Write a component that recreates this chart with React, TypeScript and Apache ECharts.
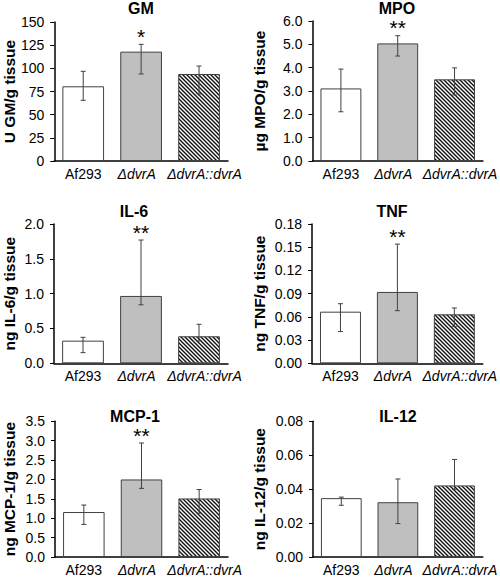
import React, { useEffect, useRef } from "react";
import * as echarts from "echarts";

const categories = ["Af293", "ΔdvrA", "ΔdvrA::dvrA"];

const gmMean = [80.6, 118, 93.9];
const gmLow = [65.5, 93.9, 72.3];
const gmHigh = [96.8, 125.9, 102.5];
const gmSig = ["", "*", ""];

const mpoMean = [3.11, 5.04, 3.5];
const mpoLow = [2.11, 4.5, 2.83];
const mpoHigh = [3.94, 5.37, 3.99];
const mpoSig = ["", "**", ""];

const il6Mean = [0.325, 0.967, 0.388];
const il6Low = [0.153, 0.84, 0.32];
const il6High = [0.373, 1.77, 0.56];
const il6Sig = ["", "**", ""];

const tnfMean = [0.0667, 0.0922, 0.0633];
const tnfLow = [0.041, 0.068, 0.0474];
const tnfHigh = [0.077, 0.154, 0.0715];
const tnfSig = ["", "**", ""];

const mcp1Mean = [1.16, 2.0, 1.51];
const mcp1Low = [0.84, 1.77, 1.13];
const mcp1High = [1.34, 2.94, 1.74];
const mcp1Sig = ["", "**", ""];

const il12Mean = [0.0347, 0.0323, 0.0422];
const il12Low = [0.0305, 0.0197, 0.0399];
const il12High = [0.0353, 0.046, 0.0575];
const il12Sig = ["", "", ""];

const panelTitles = ["GM", "MPO", "IL-6", "TNF", "MCP-1", "IL-12"];
const yNames = [
  "U GM/g tissue",
  "µg MPO/g tissue",
  "ng IL-6/g tissue",
  "ng TNF/g tissue",
  "ng MCP-1/g tissue",
  "ng IL-12/g tissue",
];
const yMax = [150, 6, 2, 0.18, 3.5, 0.08];
const yInterval = [25, 1, 0.5, 0.03, 0.5, 0.02];
const yDecimals = [0, 1, 1, 2, 1, 2];

const panelData = [
  { mean: gmMean, low: gmLow, high: gmHigh, sig: gmSig },
  { mean: mpoMean, low: mpoLow, high: mpoHigh, sig: mpoSig },
  { mean: il6Mean, low: il6Low, high: il6High, sig: il6Sig },
  { mean: tnfMean, low: tnfLow, high: tnfHigh, sig: tnfSig },
  { mean: mcp1Mean, low: mcp1Low, high: mcp1High, sig: mcp1Sig },
  { mean: il12Mean, low: il12Low, high: il12High, sig: il12Sig },
];

// layout (pixels)
const layout = [
  { left: 53, top: 22, width: 175, height: 139, titleX: 141, titleY: 0, nameGap: 36 },
  { left: 312.5, top: 21, width: 173, height: 140, titleX: 397, titleY: 0, nameGap: 45 },
  { left: 53, top: 224, width: 175, height: 139.3, titleX: 134, titleY: 203, nameGap: 37 },
  { left: 312, top: 224, width: 172, height: 139.3, titleX: 392, titleY: 203, nameGap: 45 },
  { left: 54, top: 421.3, width: 174, height: 139.7, titleX: 135, titleY: 408, nameGap: 38 },
  { left: 313, top: 421.3, width: 172, height: 139.7, titleX: 398, titleY: 408, nameGap: 46 },
];

const FONT = '"Liberation Sans", Arial, Helvetica, sans-serif';

function makeHatch(): string {
  const s = 4;
  const c = document.createElement("canvas");
  c.width = s;
  c.height = s;
  const ctx = c.getContext("2d")!;
  ctx.fillStyle = "#ffffff";
  ctx.fillRect(0, 0, s, s);
  ctx.strokeStyle = "#111111";
  ctx.lineWidth = 1.4;
  ctx.beginPath();
  ctx.moveTo(-1, -1);
  ctx.lineTo(s + 1, s + 1);
  ctx.moveTo(-1, s - 1);
  ctx.lineTo(1, s + 1);
  ctx.moveTo(s - 1, -1);
  ctx.lineTo(s + 1, 1);
  ctx.stroke();
  return c.toDataURL();
}

export default function App() {
  const ref = useRef<HTMLDivElement>(null);

  useEffect(() => {
    if (!ref.current) return;
    const chart = echarts.init(ref.current, undefined, { renderer: "svg" });
    const hatch = makeHatch();
    const barColors: any[] = [
      "#ffffff",
      "#bfbfbf",
      { image: hatch, repeat: "repeat", imageWidth: 4, imageHeight: 4 },
    ];

    const grid: any[] = [];
    const xAxis: any[] = [];
    const yAxis: any[] = [];
    const series: any[] = [];
    const title: any[] = [];

    layout.forEach((L, i) => {
      grid.push({ left: L.left, top: L.top, width: L.width, height: L.height, containLabel: false });
      title.push({
        text: panelTitles[i],
        left: L.titleX,
        top: L.titleY,
        textAlign: "center",
        padding: 0,
        textStyle: { fontSize: 16, fontWeight: "bold", color: "#000", fontFamily: FONT },
      });
      const italic = { fontStyle: "italic", fontSize: 14, color: "#000", fontFamily: FONT };
      xAxis.push({
        type: "category",
        gridIndex: i,
        data: categories,
        axisLine: { show: true, lineStyle: { color: "#000", width: 1.5 } },
        axisTick: { show: false },
        axisLabel: {
          color: "#000",
          fontSize: 14,
          fontFamily: FONT,
          margin: 6,
          interval: 0,
          formatter: (v: string, idx: number) =>
            idx === 0 ? v : idx === 1 ? `{a|${v}}` : `{b|${v}}`,
          rich: {
            a: { ...italic, padding: [0, 9, 0, 0] },
            b: { ...italic, padding: [0, 0, 0, 11] },
          },
        },
      });
      const d = yDecimals[i];
      yAxis.push({
        type: "value",
        gridIndex: i,
        min: 0,
        max: yMax[i],
        interval: yInterval[i],
        splitLine: { show: false },
        axisLine: { show: true, lineStyle: { color: "#000", width: 1.5 } },
        axisTick: { show: true, length: 4, lineStyle: { color: "#000", width: 1 } },
        axisLabel: {
          color: "#000",
          fontSize: 14,
          fontFamily: FONT,
          margin: 10,
          formatter: (v: number) => v.toFixed(d),
        },
        name: yNames[i],
        nameLocation: "middle",
        nameRotate: 90,
        nameGap: L.nameGap,
        nameTextStyle: { fontSize: 15.5, fontWeight: "bold", color: "#000", fontFamily: FONT },
      });
      const P = panelData[i];
      series.push({
        type: "bar",
        xAxisIndex: i,
        yAxisIndex: i,
        barWidth: "72%",
        data: P.mean.map((v, k) => ({
          value: v,
          itemStyle: { color: barColors[k], borderColor: "#404040", borderWidth: 1 },
        })),
      });
      series.push({
        type: "custom",
        xAxisIndex: i,
        yAxisIndex: i,
        z: 5,
        data: P.mean.map((_, k) => [k, P.low[k], P.high[k]]),
        renderItem: (params: any, api: any) => {
          const k = api.value(0);
          const lo = api.coord([k, api.value(1)]);
          const hi = api.coord([k, api.value(2)]);
          const cx = lo[0];
          const hw = 2.5;
          const st = { stroke: "#404040", lineWidth: 1 };
          const children: any[] = [
            { type: "line", shape: { x1: cx, y1: lo[1], x2: cx, y2: hi[1] }, style: st },
            { type: "line", shape: { x1: cx - hw, y1: lo[1], x2: cx + hw, y2: lo[1] }, style: st },
            { type: "line", shape: { x1: cx - hw, y1: hi[1], x2: cx + hw, y2: hi[1] }, style: st },
          ];
          const sg = P.sig[params.dataIndex];
          if (sg) {
            children.push({
              type: "text",
              x: cx,
              y: hi[1] - 8,
              style: {
                text: sg,
                fill: "#000",
                font: `21px ${FONT}`,
                textAlign: "center",
                textVerticalAlign: "middle",
              },
            });
          }
          return { type: "group", children };
        },
      });
    });

    chart.setOption({
      animation: false,
      backgroundColor: "#ffffff",
      title,
      grid,
      xAxis,
      yAxis,
      series,
    });
    return () => chart.dispose();
  }, []);

  return (
    <div
      ref={ref}
      style={{ position: "absolute", left: 0, top: 0, width: 500, height: 577 }}
    />
  );
}
